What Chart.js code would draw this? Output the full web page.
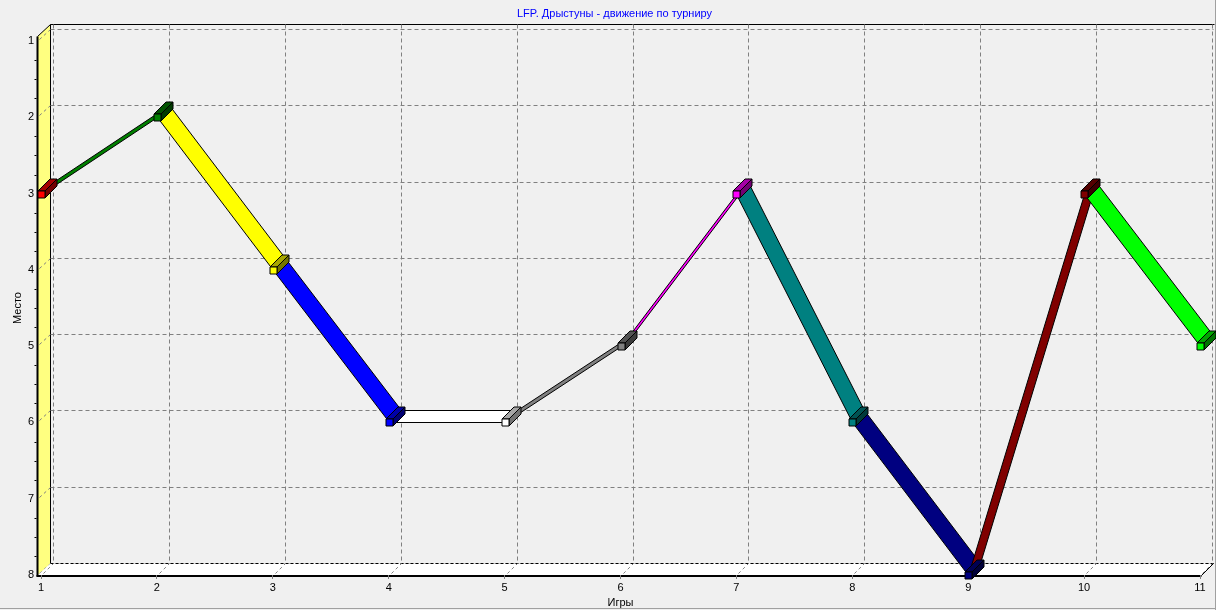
<!DOCTYPE html>
<html>
<head>
<meta charset="utf-8">
<title>LFP. Дрыстуны - движение по турниру</title>
<script src="https://cdn.jsdelivr.net/npm/chart.js@4.4.1/dist/chart.umd.min.js"></script>
<style>
    html, body { margin: 0; padding: 0; background: #f0f0f0; }
    #wrap { width: 1216px; height: 610px; }
</style>
</head>
<body>
<div id="wrap"><canvas id="placeChart" width="1216" height="610"></canvas></div>
<script>
// Данные турнира
var games = [1, 2, 3, 4, 5, 6, 7, 8, 9, 10, 11];
var places = [3, 2, 4, 6, 6, 5, 3, 6, 8, 3, 5];
var pointColors = ['#FF0000', '#008000', '#FFFF00', '#0000FF', '#FFFFFF', '#808080',
                   '#FF00FF', '#008080', '#000080', '#800000', '#00FF00'];
var placeTicks = [1, 2, 3, 4, 5, 6, 7, 8];
var gameTicks = [1, 2, 3, 4, 5, 6, 7, 8, 9, 10, 11];

var chartTitle = 'LFP. Дрыстуны - движение по турниру';
var FONT = "'Liberation Sans', Arial, sans-serif";
var DEPTH = 12;

function shade(hex, k) {
    var n = parseInt(hex.slice(1), 16);
    var r = Math.round(((n >> 16) & 255) * k);
    var g = Math.round(((n >> 8) & 255) * k);
    var b = Math.round((n & 255) * k);
    return 'rgb(' + r + ',' + g + ',' + b + ')';
}

function poly(ctx, pts, fill, stroke) {
    ctx.beginPath();
    ctx.moveTo(pts[0][0], pts[0][1]);
    for (var i = 1; i < pts.length; i++) ctx.lineTo(pts[i][0], pts[i][1]);
    ctx.closePath();
    if (fill) { ctx.fillStyle = fill; ctx.fill(); }
    if (stroke) { ctx.strokeStyle = stroke; ctx.lineWidth = 1; ctx.stroke(); }
}

function line(ctx, x1, y1, x2, y2, color, width, dash) {
    ctx.beginPath();
    ctx.setLineDash(dash || []);
    ctx.strokeStyle = color;
    ctx.lineWidth = width || 1;
    ctx.moveTo(x1, y1);
    ctx.lineTo(x2, y2);
    ctx.stroke();
    ctx.setLineDash([]);
}

// Рамка в 3D: задняя стенка, левая стенка, пол, сетка
var frame3d = {
    id: 'frame3d',
    beforeDraw: function(chart) {
        var ctx = chart.ctx;
        var a = chart.chartArea;
        var sx = chart.scales.x, sy = chart.scales.y;
        var d = DEPTH;
        var fl = Math.round(a.left) - 3.5, fr = Math.round(a.right) + 1.5;
        var ft = Math.round(a.top) - 4.5, fb = Math.round(a.bottom) + 0.5;
        var bl = fl + d + 1, br = fr + d, bt = ft - d, bb = fb - d;

        ctx.save();
        ctx.fillStyle = '#f0f0f0';
        ctx.fillRect(0, 0, chart.width, chart.height);

        // сетка на задней стенке
        placeTicks.forEach(function(v) {
            var yy = Math.round(sy.getPixelForValue(v)) - d + 0.5;
            line(ctx, bl, yy, br, yy, '#808080', 1, [4, 3]);
        });
        gameTicks.forEach(function(v) {
            var xx = Math.round(sx.getPixelForValue(v)) + d + 0.5;
            line(ctx, xx, bt, xx, bb, '#808080', 1, [4, 3]);
        });

        // левая стенка
        poly(ctx, [[fl, ft], [bl, bt], [bl, bb], [fl, fb]], '#FFFF80', null);
        line(ctx, fl, ft, bl, bt, '#000', 1);
        line(ctx, bl, bt, bl, bb, '#000', 1);
        placeTicks.forEach(function(v) {
            var yy = Math.round(sy.getPixelForValue(v)) + 0.5;
            line(ctx, fl + 2, yy - 2, bl, yy - d, '#808080', 1, [3, 3]);
        });

        // пол
        poly(ctx, [[fl, fb], [bl, bb], [br, bb], [fr, fb]], '#FFFFFF', null);
        line(ctx, bl, bb, br, bb, '#000', 1, [3, 2]);
        line(ctx, fr, fb, br, bb, '#000', 1);
        gameTicks.forEach(function(v) {
            var xx = Math.round(sx.getPixelForValue(v)) + 0.5;
            line(ctx, xx + 2, fb - 2, xx + d, bb, '#808080', 1, [3, 3]);
        });

        // верхняя граница задней стенки с засечками
        line(ctx, bl, bt, br + 1, bt, '#000', 1);
        gameTicks.forEach(function(v) {
            var xx = Math.round(sx.getPixelForValue(v)) + d + 0.5;
            line(ctx, xx, bt, xx, bt + 3, '#808080', 1);
        });

        // передние оси
        line(ctx, fl, ft, fl, fb + 1, '#000', 2);
        line(ctx, fl - 1, fb + 0.5, fr, fb + 0.5, '#000', 2);

        // малые засечки на оси мест
        for (var v = 1; v < 8; v++) {
            for (var k = 1; k < 4; k++) {
                var yy = Math.round(sy.getPixelForValue(v + k / 4)) + 0.5;
                line(ctx, fl - 3, yy, fl - 1, yy, '#000', 1);
            }
        }

        // заголовок
        ctx.fillStyle = '#0000FF';
        ctx.font = '11px ' + FONT;
        ctx.textAlign = 'center';
        ctx.textBaseline = 'middle';
        ctx.fillText(chartTitle, 614.5, 13.5);

        // рамка окна
        line(ctx, 0, chart.height - 1.5, chart.width, chart.height - 1.5, '#a0a0a0', 1);
        line(ctx, chart.width - 0.5, 0, chart.width - 0.5, chart.height, '#a0a0a0', 1);
        ctx.restore();
    },
    afterDatasetsDraw: function(chart) {
        var ctx = chart.ctx;
        var pts = chart.getDatasetMeta(0).data;
        var d = DEPTH;
        var h = 3.5;
        var i, px, py;
        ctx.save();
        // ленты между играми
        for (i = 0; i + 1 < pts.length; i++) {
            px = Math.round(pts[i].x) + 0.5; py = Math.round(pts[i].y) + 0.5;
            var qx = Math.round(pts[i + 1].x) + 0.5, qy = Math.round(pts[i + 1].y) + 0.5;
            poly(ctx, [[px, py], [qx, qy], [qx + d, qy - d], [px + d, py - d]], pointColors[i + 1], '#000');
        }
        // маркеры-кубики
        for (i = 0; i < pts.length; i++) {
            px = Math.round(pts[i].x) + 0.5; py = Math.round(pts[i].y) + 0.5;
            var c = pointColors[i];
            poly(ctx, [[px + h, py - h], [px + h + d, py - h - d], [px + h + d, py + h - d], [px + h, py + h]], shade(c, 0.45), '#000');
            poly(ctx, [[px - h, py - h], [px + h, py - h], [px + h + d, py - h - d], [px - h + d, py - h - d]], shade(c, 0.65), '#000');
            poly(ctx, [[px - h, py - h], [px + h, py - h], [px + h, py + h], [px - h, py + h]], c, '#000');
        }
        ctx.restore();
    }
};

var ctx = document.getElementById('placeChart').getContext('2d');
var placeChart = new Chart(ctx, {
    type: 'line',
    data: {
        datasets: [{
            label: 'Место',
            data: games.map(function(g, i) { return { x: g, y: places[i] }; }),
            showLine: false,
            pointRadius: 0,
            pointHoverRadius: 0
        }]
    },
    options: {
        responsive: false,
        devicePixelRatio: 1,
        animation: false,
        events: [],
        layout: { padding: { top: 41, left: 0, right: 16, bottom: 0 } },
        plugins: {
            legend: { display: false },
            title: { display: false },
            tooltip: { enabled: false }
        },
        scales: {
            x: {
                type: 'linear',
                min: 1,
                max: 11,
                afterFit: function(scale) { scale.height = 35; },
                afterBuildTicks: function(scale) {
                    scale.ticks = gameTicks.map(function(v) { return { value: v }; });
                },
                ticks: { color: '#000', padding: 2, font: { family: FONT, size: 11 } },
                grid: { display: true, drawOnChartArea: false, drawTicks: true, tickLength: 4, color: '#808080' },
                border: { display: false },
                title: { display: true, text: 'Игры', color: '#000', font: { family: FONT, size: 11 }, padding: { top: 0, bottom: 0 } }
            },
            y: {
                type: 'linear',
                reverse: true,
                min: 1,
                max: 8,
                afterFit: function(scale) { scale.width = 41; },
                afterBuildTicks: function(scale) {
                    scale.ticks = placeTicks.map(function(v) { return { value: v }; });
                },
                ticks: { color: '#000', padding: 7, font: { family: FONT, size: 11 } },
                grid: { display: false, drawTicks: false },
                border: { display: false },
                title: { display: true, text: 'Место', color: '#000', font: { family: FONT, size: 11 }, padding: { top: 11, bottom: 0 } }
            }
        }
    },
    plugins: [frame3d]
});
</script>
</body>
</html>
